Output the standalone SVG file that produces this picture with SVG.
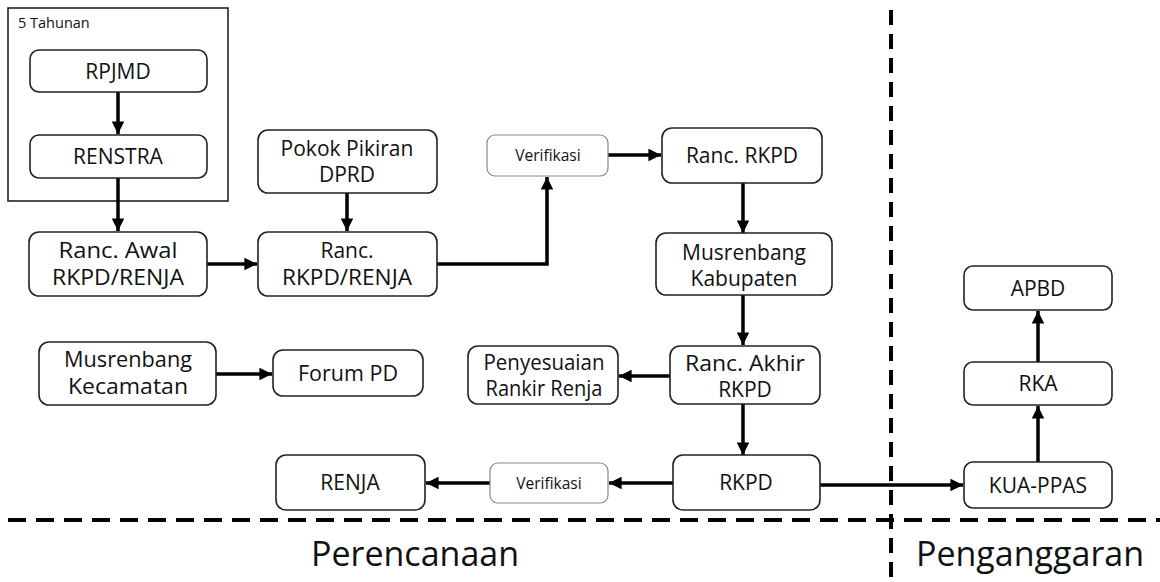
<svg xmlns="http://www.w3.org/2000/svg" width="1160" height="582" viewBox="0 0 1160 582">
<defs>
<marker id="ah" viewBox="0 0 10 10" refX="10" refY="5" markerWidth="4" markerHeight="3.6" markerUnits="strokeWidth" orient="auto">
<path d="M0,0 L10,5 L0,10 z" fill="#000"/>
</marker>
<style>
.box{fill:#fff;stroke:#222;stroke-width:1.6}
.vbox{fill:#fff;stroke:#888;stroke-width:1.2}
.t{font-family:"Open Sans","DejaVu Sans",sans-serif;font-size:21px;fill:#111;text-anchor:middle}
.tv{font-family:"Open Sans","DejaVu Sans",sans-serif;font-size:15.5px;fill:#111;text-anchor:middle}
.lbl{font-family:"Open Sans","DejaVu Sans",sans-serif;font-size:34px;fill:#111;text-anchor:middle}
.c{fill:none;stroke:#000;stroke-width:3.5;marker-end:url(#ah)}
.dash{fill:none;stroke:#000;stroke-width:4}
</style>
</defs>
<rect width="1160" height="582" fill="#fff"/>

<g id="dividers">
<line class="dash" x1="891" y1="10" x2="891" y2="582" stroke-dasharray="15,9"/>
<line class="dash" x1="8" y1="520" x2="1160" y2="520" stroke-dasharray="18,10"/>
</g>

<g id="group-5tahunan">
<rect x="8" y="8" width="220" height="193" fill="none" stroke="#222" stroke-width="1.6"/>
<text x="18" y="28" font-family="Open Sans, DejaVu Sans, sans-serif" font-size="14.5" fill="#111">5 Tahunan</text>
</g>

<g id="connectors">
<line class="c" x1="118" y1="92" x2="118" y2="134"/>
<line class="c" x1="118" y1="178" x2="118" y2="231"/>
<line class="c" x1="347" y1="193" x2="347" y2="231"/>
<line class="c" x1="207" y1="264" x2="257" y2="264"/>
<polyline class="c" points="437,264 547,264 547,177"/>
<line class="c" x1="608" y1="155" x2="661" y2="155"/>
<line class="c" x1="743" y1="183" x2="743" y2="233"/>
<line class="c" x1="743" y1="295" x2="743" y2="345"/>
<line class="c" x1="670" y1="376" x2="619" y2="376"/>
<line class="c" x1="743" y1="404" x2="743" y2="455"/>
<line class="c" x1="673" y1="483" x2="609" y2="483"/>
<line class="c" x1="490" y1="483" x2="426" y2="483"/>
<line class="c" x1="820" y1="485" x2="963" y2="485"/>
<line class="c" x1="1038" y1="462" x2="1038" y2="406"/>
<line class="c" x1="1038" y1="362" x2="1038" y2="311"/>
<line class="c" x1="216" y1="374" x2="272" y2="374"/>
</g>

<g id="rpjmd"><rect class="box" x="30" y="50" width="177" height="42" rx="9"/><text class="t" x="118" y="79">RPJMD</text></g>
<g id="renstra"><rect class="box" x="30" y="135" width="177" height="43" rx="9"/><text class="t" x="118" y="164">RENSTRA</text></g>
<g id="ranc-awal"><rect class="box" x="29" y="232" width="178" height="64" rx="10"/><text class="t" x="118" y="258" textLength="119" lengthAdjust="spacingAndGlyphs">Ranc. Awal</text><text class="t" x="118" y="285" textLength="132" lengthAdjust="spacingAndGlyphs">RKPD/RENJA</text></g>
<g id="pokok"><rect class="box" x="258" y="130" width="179" height="63" rx="10"/><text class="t" x="347" y="156">Pokok Pikiran</text><text class="t" x="347" y="182">DPRD</text></g>
<g id="ranc-rkpd-renja"><rect class="box" x="258" y="232" width="179" height="64" rx="10"/><text class="t" x="347" y="258">Ranc.</text><text class="t" x="347" y="285" textLength="130" lengthAdjust="spacingAndGlyphs">RKPD/RENJA</text></g>
<g id="verifikasi-top"><rect class="vbox" x="487" y="135" width="121" height="41" rx="8"/><text class="tv" x="548" y="161">Verifikasi</text></g>
<g id="ranc-rkpd"><rect class="box" x="662" y="128" width="160" height="55" rx="10"/><text class="t" x="742" y="163">Ranc. RKPD</text></g>
<g id="musrenbang-kab"><rect class="box" x="656" y="233" width="176" height="62" rx="10"/><text class="t" x="744" y="260">Musrenbang</text><text class="t" x="744" y="286">Kabupaten</text></g>
<g id="ranc-akhir"><rect class="box" x="670" y="346" width="150" height="58" rx="10"/><text class="t" x="745" y="371" textLength="120" lengthAdjust="spacingAndGlyphs">Ranc. Akhir</text><text class="t" x="745" y="397">RKPD</text></g>
<g id="penyesuaian"><rect class="box" x="468" y="346" width="150" height="58" rx="10"/><text class="t" x="544" y="370" textLength="121" lengthAdjust="spacingAndGlyphs">Penyesuaian</text><text class="t" x="544" y="396" textLength="117" lengthAdjust="spacingAndGlyphs">Rankir Renja</text></g>
<g id="rkpd"><rect class="box" x="673" y="455" width="147" height="55" rx="10"/><text class="t" x="746" y="490">RKPD</text></g>
<g id="verifikasi-bottom"><rect class="vbox" x="490" y="463" width="118" height="40" rx="8"/><text class="tv" x="549" y="489">Verifikasi</text></g>
<g id="renja"><rect class="box" x="276" y="455" width="149" height="55" rx="10"/><text class="t" x="350" y="490">RENJA</text></g>
<g id="musrenbang-kec"><rect class="box" x="39" y="342" width="177" height="63" rx="10"/><text class="t" x="128" y="367" textLength="128" lengthAdjust="spacingAndGlyphs">Musrenbang</text><text class="t" x="128" y="394" textLength="120" lengthAdjust="spacingAndGlyphs">Kecamatan</text></g>
<g id="forum-pd"><rect class="box" x="273" y="350" width="150" height="46" rx="10"/><text class="t" x="348" y="381" textLength="100" lengthAdjust="spacingAndGlyphs">Forum PD</text></g>
<g id="kua-ppas"><rect class="box" x="964" y="462" width="148" height="46" rx="9"/><text class="t" x="1038" y="493">KUA-PPAS</text></g>
<g id="rka"><rect class="box" x="964" y="362" width="148" height="43" rx="9"/><text class="t" x="1038" y="391">RKA</text></g>
<g id="apbd"><rect class="box" x="964" y="266" width="148" height="44" rx="9"/><text class="t" x="1038" y="296">APBD</text></g>

<g id="labels">
<text class="lbl" x="415" y="566">Perencanaan</text>
<text class="lbl" x="1030" y="566">Penganggaran</text>
</g>
</svg>
